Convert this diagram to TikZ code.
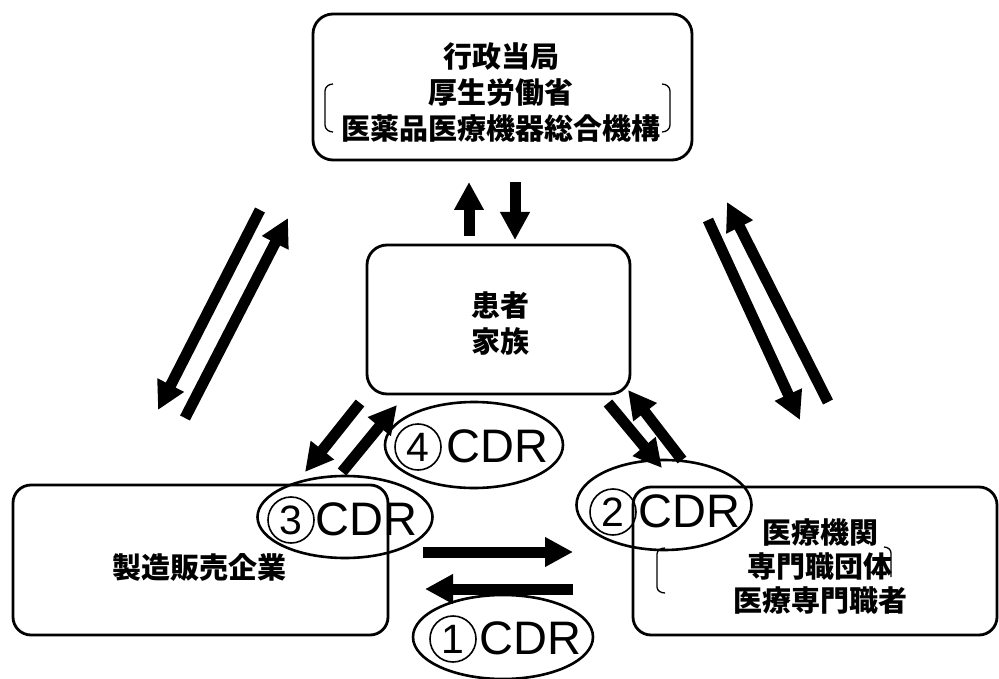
\documentclass[tikz,border=0pt]{standalone}
\usepackage{fontspec}
\setsansfont{Liberation Sans}
\newfontfamily\cjk{Noto Sans CJK JP}
\usetikzlibrary{arrows.meta,shapes.geometric}
\begin{document}
\begin{tikzpicture}[x=1pt,y=-1pt,
  box/.style={draw, line width=2.8pt, rounded corners=20pt},
  jtxt/.style={font=\cjk\bfseries\fontsize{29}{36}\selectfont, align=center, inner sep=0pt},
  cdrell/.style={draw, ellipse, line width=2.6pt, inner sep=0pt},
  circd/.style={draw, circle, line width=1.6pt, minimum size=46pt, inner sep=0pt, font=\sffamily\fontsize{41}{41}\selectfont},
  cdrtxt/.style={inner sep=0pt, anchor=west, font=\sffamily\fontsize{47}{47}\selectfont},
  blk/.style={line width=11pt, -{Triangle[length=28pt,width=28pt]}},
  brk/.style={line width=1.3pt}]
\useasboundingbox (0,0) rectangle (999,679);
% boxes
\draw[box] (313,14) rectangle (692,160);
\node[inner sep=0pt] (gov) at (502.5,87) {};
\draw[box] (367,245) rectangle (630,394);
\node[inner sep=0pt] (pat) at (498.5,319.5) {};
\draw[box,rounded corners=18pt] (13,485) rectangle (388,635);
\node[inner sep=0pt] (mfr) at (200.5,560) {};
\draw[box,rounded corners=18pt] (633,487) rectangle (997,635);
\node[inner sep=0pt] (med) at (815,561) {};
% texts
\node[jtxt] (govt) at (501,92) {行政当局\\厚生労働省\\医薬品医療機器総合機構};
\node[jtxt] (patt) at (500,324) {患者\\家族};
\node[jtxt] (mfrt) at (199,567) {製造販売企業};
\node[jtxt,font=\cjk\bfseries\fontsize{29}{34}\selectfont] (medt) at (820,567) {医療機関\\専門職団体\\医療専門職者};
% brackets
\draw[brk] (333,84) to[out=180,in=90] (325,91) -- (325,125) to[out=-90,in=180] (333,132);
\draw[brk] (662,84) to[out=0,in=90] (670,91) -- (670,125) to[out=-90,in=0] (662,132);
\draw[brk] (665,548) to[out=180,in=90] (657,554) -- (657,587) to[out=-90,in=180] (665,593);
\draw[brk] (884,547) to[out=0,in=90] (891,553) -- (891,577);
% ellipses
\node[cdrell, minimum width=178pt, minimum height=86pt] (e4) at (474,445) {};
\node[circd] (c4) at (418,447) {4};
\node[cdrtxt] (t4) at (446,446) {CDR};
\node[cdrell, minimum width=175pt, minimum height=90pt] (e2) at (664,505) {};
\node[circd] (c2) at (613,512) {2};
\node[cdrtxt] (t2) at (638,511) {CDR};
\node[cdrell, minimum width=175pt, minimum height=82pt] (e3) at (345,517) {};
\node[circd] (c3) at (291,520) {3};
\node[cdrtxt] (t3) at (315,519) {CDR};
\node[cdrell, minimum width=180pt, minimum height=84pt] (e1) at (503,637) {};
\node[circd] (c1) at (453,639) {1};
\node[cdrtxt] (t1) at (479,638) {CDR};
% arrow end points
\coordinate (a1s) at (469,236); \coordinate (a1e) at (469,182);
\coordinate (a2s) at (515,182); \coordinate (a2e) at (515,240);
\coordinate (a3s) at (260,210); \coordinate (a3e) at (158,410);
\coordinate (a4s) at (185,418); \coordinate (a4e) at (288,218);
\coordinate (a5s) at (708,220); \coordinate (a5e) at (800,420);
\coordinate (a6s) at (828,402); \coordinate (a6e) at (727,202);
\coordinate (a7s) at (360,403); \coordinate (a7e) at (305,472);
\coordinate (a8s) at (342,472); \coordinate (a8e) at (397,405);
\coordinate (a9s) at (608,403); \coordinate (a9e) at (662,468);
\coordinate (a10s) at (682,460); \coordinate (a10e) at (628,390);
\coordinate (a11s) at (423,552); \coordinate (a11e) at (573,552);
\coordinate (a12s) at (573,589); \coordinate (a12e) at (425,589);
\foreach \i in {1,...,12} {\draw[blk] (a\i s) -- (a\i e);}
\end{tikzpicture}
\end{document}
